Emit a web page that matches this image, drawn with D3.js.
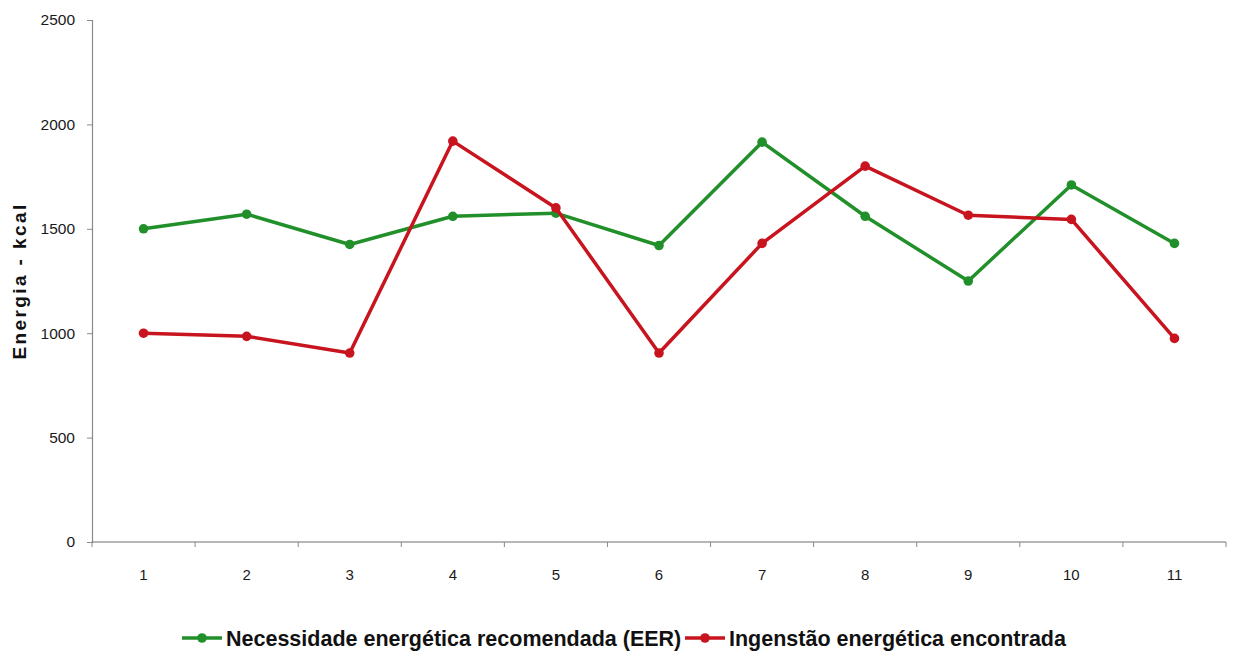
<!DOCTYPE html>
<html>
<head>
<meta charset="utf-8">
<script src="https://cdn.jsdelivr.net/npm/d3@7"></script>
<style>
  html, body { margin: 0; padding: 0; background: #fff; }
  svg { display: block; }
</style>
</head>
<body>
<svg id="chart" width="1239" height="661"></svg>
<script>
// Participants (x categories)
const categories = ["1", "2", "3", "4", "5", "6", "7", "8", "9", "10", "11"];
// Recommended energy requirement (EER), kcal
const eerValues = [1500, 1570, 1425, 1560, 1575, 1420, 1915, 1560, 1250, 1710, 1430];
// Energy intake found, kcal
const intakeValues = [1000, 985, 905, 1920, 1600, 905, 1430, 1800, 1565, 1545, 975];
// Y axis ticks
const yTicks = [0, 500, 1000, 1500, 2000, 2500];

const seriesNames = ["Necessidade energética recomendada (EER)", "Ingenstão energética encontrada"];
const seriesColors = ["#22902a", "#c8141e"];

const svg = d3.select("#chart");
const margin = { left: 92, right: 13, top: 20, bottom: 119 };
const W = 1239, H = 661;
const plotW = W - margin.left - margin.right;
const plotH = H - margin.top - margin.bottom;

const g = svg.append("g").attr("transform", `translate(${margin.left},${margin.top})`);

const x = d3.scaleBand().domain(categories).range([0, plotW]).padding(0);
const y = d3.scaleLinear().domain([0, 2500]).range([plotH, 0]);

const fontFamily = "'Liberation Sans', Arial, sans-serif";

// Y axis
const yAxis = g.append("g")
  .call(d3.axisLeft(y).tickValues(yTicks).tickSize(5).tickPadding(12).tickFormat(d3.format("d")));
yAxis.select(".domain").attr("stroke", "#8a8a8a").attr("stroke-width", 1.2);
yAxis.selectAll(".tick line").attr("stroke", "#8a8a8a");
yAxis.selectAll(".tick text").attr("fill", "#1a1a1a").style("font-family", fontFamily).style("font-size", "15.5px");

// X axis with ticks between categories
const xAxisG = g.append("g").attr("transform", `translate(0,${plotH})`);
xAxisG.append("line").attr("x1", 0).attr("x2", plotW).attr("y1", 0).attr("y2", 0)
  .attr("stroke", "#6e6e6e").attr("stroke-width", 1.2);
const boundaries = d3.range(categories.length + 1).map(i => i * x.step());
xAxisG.selectAll(".xtick").data(boundaries).join("line")
  .attr("x1", d => d).attr("x2", d => d).attr("y1", 0).attr("y2", 5)
  .attr("stroke", "#8a8a8a");
xAxisG.selectAll(".xlabel").data(categories).join("text")
  .attr("x", d => x(d) + x.bandwidth() / 2)
  .attr("y", 38)
  .attr("text-anchor", "middle")
  .attr("fill", "#1a1a1a")
  .style("font-family", fontFamily).style("font-size", "15px")
  .text(d => d);

// Y title
svg.append("text")
  .attr("transform", `translate(26,${margin.top + plotH / 2}) rotate(-90)`)
  .attr("text-anchor", "middle")
  .attr("fill", "#111")
  .style("font-family", fontFamily).style("font-size", "19px").style("font-weight", "bold")
  .style("letter-spacing", "2.4px")
  .text("Energia - kcal");

// Lines and markers
const seriesData = [eerValues, intakeValues];
const line = d3.line()
  .x((d, i) => x(categories[i]) + x.bandwidth() / 2)
  .y(d => y(d));

seriesData.forEach((vals, si) => {
  g.append("path").datum(vals)
    .attr("fill", "none")
    .attr("stroke", seriesColors[si])
    .attr("stroke-width", 3.5)
    .attr("stroke-linejoin", "round")
    .attr("d", line);
  g.selectAll(".pt" + si).data(vals).join("circle")
    .attr("cx", (d, i) => x(categories[i]) + x.bandwidth() / 2)
    .attr("cy", d => y(d))
    .attr("r", 4.8)
    .attr("fill", seriesColors[si]);
});

// Legend
const legendY = 638;
const legendItems = [{ x: 182, name: seriesNames[0], color: seriesColors[0] },
                     { x: 685, name: seriesNames[1], color: seriesColors[1] }];
legendItems.forEach(item => {
  const lg = svg.append("g").attr("transform", `translate(${item.x},${legendY})`);
  lg.append("line").attr("x1", 0).attr("x2", 40).attr("y1", 0).attr("y2", 0)
    .attr("stroke", item.color).attr("stroke-width", 3.5);
  lg.append("circle").attr("cx", 20).attr("cy", 0).attr("r", 4.8).attr("fill", item.color);
  lg.append("text").attr("x", 44).attr("y", 8)
    .attr("fill", "#111")
    .style("font-family", fontFamily)
    .style("font-size", "21.5px").style("font-weight", "bold")
    .text(item.name);
});
</script>
</body>
</html>
